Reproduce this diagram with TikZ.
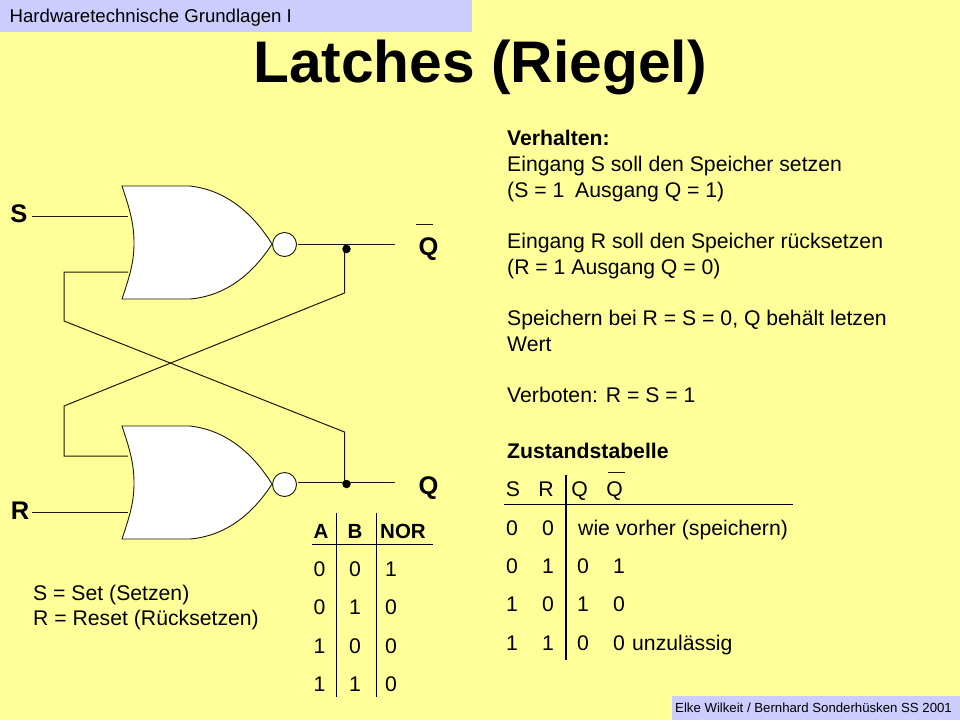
\documentclass[tikz,border=0pt]{standalone}
\usepackage{fontspec}
\setmainfont{Liberation Sans}
\definecolor{bg}{HTML}{FFFF99}
\definecolor{bar}{HTML}{CCCCFF}
\definecolor{ink}{HTML}{1A1A00}
\newcommand{\fs}[1]{\fontsize{#1}{#1}\selectfont}
\tikzset{
  wire/.style={draw=ink,line width=1pt},
  rule/.style={draw=black,line width=1.1pt},
  bub/.style={circle,draw=ink,fill=white,line width=.9pt,minimum size=24pt,inner sep=0pt},
  jdot/.style={circle,fill=black,minimum size=8.5pt,inner sep=0pt},
  gatefill/.style={draw=ink,fill=white,line width=.9pt},
  txt/.style={anchor=base west,inner sep=0pt,text=black,font=\fs{21.2}},
  btxt/.style={anchor=base west,inner sep=0pt,text=black,font=\fs{21.2}\bfseries},
  big/.style={anchor=base,inner sep=0pt,text=black,font=\fs{25.5}\bfseries},
  cell/.style={anchor=base,inner sep=0pt,text=black,font=\fs{21.2}},
  bcell/.style={anchor=base,inner sep=0pt,text=black,font=\fs{20.5}\bfseries},
  bartxt/.style={anchor=base west,inner sep=0pt,text=black}
}
\begin{document}
\begin{tikzpicture}[x=1pt,y=-1pt]
\useasboundingbox (0,0) rectangle (960,720);
\fill[bg] (0,0) rectangle (960,720);
\fill[bar] (0,0) rectangle (472,32);
\fill[bar] (672,696) rectangle (960,720);
\node[bartxt,font=\fs{18.6}] (hdr) at (9.5,22) {Hardwaretechnische Grundlagen I};
\node[bartxt,font=\fs{13.2}] (ftr) at (675,712.5) {Elke Wilkeit / Bernhard Sonderhüsken SS 2001};
\node[anchor=base,inner sep=0pt,font=\fs{58.7}\bfseries] (title) at (480,82) {Latches (Riegel)};
% gates
\foreach \n/\d in {a/0,b/240}{
  \draw[gatefill] (122,186+\d) -- (190,186+\d)
    .. controls (225,190+\d) and (252,212+\d) .. (272,244+\d)
    .. controls (252,275+\d) and (225,296+\d) .. (190,299+\d)
    -- (122,299+\d)
    .. controls (130,275+\d) and (134,262+\d) .. (134,243+\d)
    .. controls (134,224+\d) and (130,210+\d) .. (122,186+\d) -- cycle;
}
\node[bub] (bubA) at (284.5,244.5) {};
\node[bub] (bubB) at (284.5,484.5) {};
% named wire points
\coordinate (sIn) at (32,216);
\coordinate (sEnd) at (128,216);
\coordinate (rIn) at (32,512);
\coordinate (rEnd) at (128,512);
\coordinate (aOut) at (298,244);
\coordinate (aEnd) at (395,244);
\coordinate (bOut) at (298,482.5);
\coordinate (bEnd) at (395,482.5);
\coordinate (aJ) at (344.5,244);
\coordinate (aK) at (344.5,293);
\coordinate (bJ) at (344.5,482.5);
\coordinate (bK) at (344.5,432);
\coordinate (cA) at (64,272);
\coordinate (cAe) at (128,272);
\coordinate (cB) at (64,321);
\coordinate (dA) at (64,406);
\coordinate (dB) at (64,456);
\coordinate (dBe) at (128,456);
\draw[wire] (sIn) -- (sEnd);
\draw[wire] (rIn) -- (rEnd);
\draw[wire] (aOut) -- (aEnd);
\draw[wire] (bOut) -- (bEnd);
\draw[wire] (aJ) -- (aK) -- (dA) -- (dB) -- (dBe);
\draw[wire] (bJ) -- (bK) -- (cB) -- (cA) -- (cAe);
\node[jdot] (dotA) at (346.5,249) {};
\node[jdot] (dotB) at (346.5,484) {};
% signal labels
\node[big] (S) at (19,222) {S};
\node[big] (R) at (20,519) {R};
\node[big] (Qn) at (428.5,255) {Q};
\node[big] (Q) at (428.5,494) {Q};
\coordinate (qbarL) at (416,224.5);
\coordinate (qbarR) at (433,224.5);
\draw[draw=ink,line width=.8pt] (qbarL) -- (qbarR);
% right text
\node[btxt] (v0) at (507,145) {Verhalten:};
\node[txt] (v1) at (507,171) {Eingang S soll den Speicher setzen};
\node[txt] (v2) at (507,197) {(S = 1\hspace{5pt} Ausgang Q = 1)};
\node[txt] (v3) at (507,248) {Eingang R soll den Speicher rücksetzen};
\node[txt] (v4) at (507,274) {(R = 1 Ausgang Q = 0)};
\node[txt] (v5) at (507,325) {Speichern bei R = S = 0, Q behält letzen};
\node[txt] (v6) at (507,351) {Wert};
\node[txt] (v7) at (507,402) {Verboten: R = S = 1};
\node[btxt] (v8) at (507,458) {Zustandstabelle};
% state table
\node[cell] (h1) at (513,496) {S};
\node[cell] (h2) at (546,496) {R};
\node[cell] (h3) at (579.5,496) {Q};
\node[cell] (h4) at (614.5,496) {Q};
\coordinate (zb1) at (608,472);
\coordinate (zb2) at (625,472);
\draw[draw=ink,line width=.8pt] (zb1) -- (zb2);
\coordinate (zv1) at (566,475);
\coordinate (zv2) at (566,660);
\coordinate (zh1) at (504,504.5);
\coordinate (zh2) at (793,504.5);
\draw[rule] (zv1) -- (zv2);
\draw[rule] (zh1) -- (zh2);
\node[cell] at (512,535) {0};
\node[cell] at (548,535) {0};
\node[txt] at (578,535) {wie vorher (speichern)};
\node[cell] at (512,573) {0};
\node[cell] at (548,573) {1};
\node[cell] at (583,573) {0};
\node[cell] at (619,573) {1};
\node[cell] at (512,611) {1};
\node[cell] at (548,611) {0};
\node[cell] at (583,611) {1};
\node[cell] at (619,611) {0};
\node[cell] at (512,650) {1};
\node[cell] at (548,650) {1};
\node[cell] at (583,650) {0};
\node[cell] at (619,650) {0};
\node[txt] at (632,650) {unzulässig};
% NOR table
\node[bcell] (ta) at (321,538) {A};
\node[bcell] (tb) at (355,538) {B};
\node[bcell] (tc) at (403,538) {NOR};
\coordinate (nv1a) at (336.5,512.5);
\coordinate (nv1b) at (336.5,697);
\coordinate (nv2a) at (376.5,512.5);
\coordinate (nv2b) at (376.5,697);
\coordinate (nh1) at (312,544.5);
\coordinate (nh2) at (433,544.5);
\draw[rule] (nv1a) -- (nv1b);
\draw[rule] (nv2a) -- (nv2b);
\draw[rule] (nh1) -- (nh2);
\node[cell] at (319.5,576) {0}; \node[cell] at (355,576) {0}; \node[cell] at (391,576) {1};
\node[cell] at (319.5,614) {0}; \node[cell] at (355,614) {1}; \node[cell] at (391,614) {0};
\node[cell] at (319.5,653) {1}; \node[cell] at (355,653) {0}; \node[cell] at (391,653) {0};
\node[cell] at (319.5,691) {1}; \node[cell] at (355,691) {1}; \node[cell] at (391,691) {0};
% legend
\node[txt] (l1) at (33,600) {S = Set (Setzen)};
\node[txt] (l2) at (33,625) {R = Reset (Rücksetzen)};
\end{tikzpicture}
\end{document}
